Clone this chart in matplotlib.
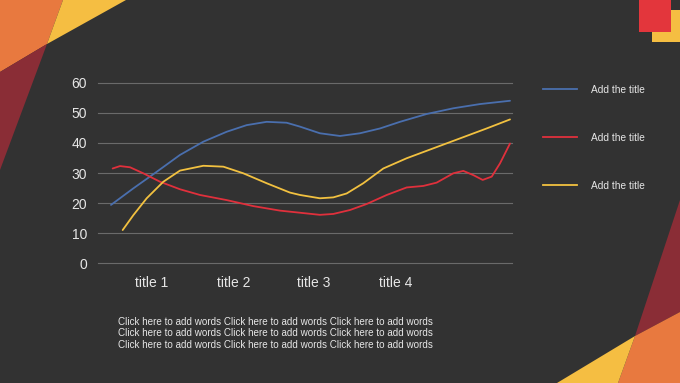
import matplotlib
matplotlib.use('Agg')
import matplotlib.pyplot as plt
from matplotlib.patches import Polygon, Rectangle

# category labels under the x axis
categories = ['title 1', 'title 2', 'title 3', 'title 4']
category_pos = [0.65, 1.64, 2.61, 3.6]

# series (x in category units, y in values)
blue_x = [0.157, 0.427, 0.709, 0.99, 1.272, 1.554, 1.795, 2.037, 2.278, 2.44, 2.56, 2.68,
          2.923, 3.164, 3.406, 3.647, 3.969, 4.291, 4.613, 4.976]
blue_y = [19.4, 24.9, 30.4, 36.0, 40.4, 43.7, 45.9, 47.0, 46.7, 45.4, 44.3, 43.2,
          42.3, 43.2, 44.8, 47.0, 49.6, 51.5, 52.9, 54.0]

red_x = [0.177, 0.266, 0.387, 0.547, 0.749, 0.99, 1.232, 1.554, 1.876, 2.198, 2.44, 2.68,
         2.842, 3.043, 3.245, 3.487, 3.728, 3.929, 4.09, 4.291, 4.412, 4.533, 4.646,
         4.755, 4.855, 4.976]
red_y = [31.5, 32.3, 31.9, 29.9, 27.1, 24.6, 22.7, 21.0, 19.0, 17.5, 16.8, 16.1,
         16.4, 17.7, 19.7, 22.7, 25.2, 25.7, 26.8, 29.9, 30.7, 29.3, 27.7,
         28.8, 33.2, 39.8]

yellow_x = [0.298, 0.427, 0.588, 0.789, 0.99, 1.272, 1.514, 1.755, 2.037, 2.318, 2.44, 2.68,
            2.842, 3.003, 3.204, 3.446, 3.728, 4.05, 4.372, 4.694, 4.976]
yellow_y = [11.05, 16.0, 21.6, 27.1, 30.8, 32.4, 32.1, 29.9, 26.6, 23.5, 22.7, 21.6,
            21.9, 23.2, 26.6, 31.5, 34.9, 38.2, 41.5, 44.8, 47.8]

series_names = ['Add the title', 'Add the title', 'Add the title']
yticks = [0, 10, 20, 30, 40, 50, 60]
note_lines = ['Click here to add words Click here to add words Click here to add words'] * 3

BG = '#323232'
TXT = '#e6e6e6'
BLUE = '#4a6fae'
RED = '#e0303c'
YELLOW = '#f2c140'

W, H = 680, 383
plt.rcParams['font.family'] = ['Liberation Sans', 'DejaVu Sans']

fig = plt.figure(figsize=(6.8, 3.83), dpi=100, facecolor=BG)


def px(pts):
    return [(x / W, 1 - y / H) for x, y in pts]


# corner decorations
deco = [
    ([(0, 0), (63, 0), (47, 44), (0, 72)], '#e8793f'),
    ([(63, 0), (126, 0), (47, 44)], '#f5be42'),
    ([(0, 72), (47, 44), (0, 170)], '#8a2d36'),
    ([(680, 200), (680, 312), (635, 336)], '#8a2d36'),
    ([(635, 336), (680, 312), (680, 383), (618, 383)], '#e8793f'),
    ([(635, 336), (618, 383), (557, 383)], '#f5be42'),
]
for pts, c in deco:
    fig.add_artist(Polygon(px(pts), closed=True, facecolor=c, edgecolor='none',
                           transform=fig.transFigure))
fig.add_artist(Rectangle((652 / W, 1 - 42 / H), 28 / W, 32 / H, facecolor='#f5be42',
                         edgecolor='none', transform=fig.transFigure))
fig.add_artist(Rectangle((639 / W, 1 - 32 / H), 32 / W, 32 / H, facecolor='#e3363c',
                         edgecolor='none', transform=fig.transFigure))

ax = fig.add_axes([98 / W, 1 - 263.3 / H, 414 / W, 180.6 / H])
ax.set_facecolor('none')
ax.set_xlim(0, 5)
ax.set_ylim(0, 60)
for s in ax.spines.values():
    s.set_visible(False)
ax.set_yticks(yticks)
ax.set_yticklabels([str(v) for v in yticks], color=TXT, fontsize=10)
ax.set_xticks(category_pos)
ax.set_xticklabels(categories, color=TXT, fontsize=10)
ax.tick_params(length=0)
ax.tick_params(axis='y', pad=8)
ax.tick_params(axis='x', pad=9)
ax.grid(axis='y', color='#6a6a6a', linewidth=0.8)
for gl in ax.get_ygridlines():
    gl.set_clip_on(False)
ax.set_axisbelow(True)

for xs, ys, c in [(blue_x, blue_y, BLUE), (red_x, red_y, RED), (yellow_x, yellow_y, YELLOW)]:
    ax.plot(xs, ys, color=c, linewidth=1.3, clip_on=False,
            solid_joinstyle='round', solid_capstyle='round')

# legend drawn by hand to match the spacing
leg_y = [89, 137, 185]
for y, c, name in zip(leg_y, [BLUE, RED, YELLOW], series_names):
    fig.add_artist(plt.Line2D([543 / W, 577 / W], [1 - y / H, 1 - y / H], color=c,
                              linewidth=1.3, transform=fig.transFigure))
    fig.text(591 / W, 1 - (y + 1) / H, name, color=TXT, fontsize=7.3, va='center')

for i, line in enumerate(note_lines):
    fig.text(118 / W, 1 - (322 + i * 11.5) / H, line, color=TXT, fontsize=7.1, va='center')

fig.savefig('out.png', dpi=100, facecolor=BG)
